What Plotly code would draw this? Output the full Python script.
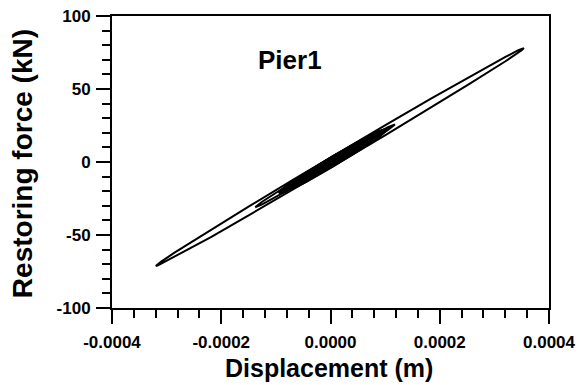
import plotly.graph_objects as go

# Hysteresis loops of Pier1: displacement (m) vs restoring force (kN).
# Each loop is listed as a closed path: upper branch left->right, then lower branch right->left.

# Large loop
outer_x_up = [-0.000320, -0.0003166, -0.0003099, -0.0002863, -0.0002189, -0.0001515, -0.0000673,
              0.000017, 0.0001013, 0.0001855, 0.0002529, 0.0003203, 0.0003439, 0.0003506, 0.000354]
outer_f_up = [-71.2, -70.0, -68.2, -62.3, -46.4, -30.9, -11.9, 6.9, 25.4, 43.7, 58.1, 72.0, 76.6, 77.7, 78.0]
outer_f_dn = [-71.2, -71.0, -69.9, -65.3, -51.4, -36.9, -18.7, -0.1, 18.6, 37.7, 53.1, 69.0, 74.9, 76.7, 78.0]

# Smaller cycles around the origin
loop2_x = [-0.000138, -0.0001252, -0.0000868, -0.00001, 0.0000668, 0.0001052, 0.000118]
loop2_up = [-31.0, -27.2, -18.0, -0.6, 16.0, 23.8, 25.7]
loop2_dn = [-31.0, -29.0, -21.2, -4.6, 12.8, 22.0, 25.7]

loop3_x = [-0.000087, -0.0000779, -0.000050, 0.0000045, 0.0000594, 0.0000869, 0.000096]
loop3_up = [-19.7, -16.8, -10.1, 2.4, 14.2, 19.6, 20.9]
loop3_dn = [-19.7, -18.4, -12.9, -1.2, 11.4, 18.0, 20.9]

loop4_x = [-0.0000800, -0.0000673, -0.0000375, 0.0000050, 0.0000475, 0.0000773, 0.0000900]
loop4_up = [-17.8, -13.6, -6.2, 3.6, 12.7, 18.4, 19.8]
loop4_dn = [-17.8, -16.4, -10.7, -1.6, 8.2, 15.6, 19.8]

loop5_x = [-0.0000720, -0.0000605, -0.0000335, 0.0000050, 0.0000435, 0.0000705, 0.0000820]
loop5_up = [-16.9, -13.2, -6.5, 2.3, 10.5, 15.8, 17.2]
loop5_dn = [-16.9, -15.6, -10.3, -2.1, 6.7, 13.4, 17.2]

loop6_x = [-0.0000600, -0.0000501, -0.0000270, 0.0000060, 0.0000390, 0.0000621, 0.0000720]
loop6_up = [-13.7, -10.7, -5.0, 2.5, 9.6, 14.1, 15.5]
loop6_dn = [-13.7, -12.3, -7.8, -0.7, 6.8, 12.5, 15.5]

loop7_x = [-0.0000950, -0.0000802, -0.0000455, 0.0000040, 0.0000535, 0.0000882, 0.0001030]
loop7_up = [-21.2, -16.3, -7.7, 3.7, 14.2, 20.9, 22.6]
loop7_dn = [-21.2, -19.5, -12.9, -2.3, 9.0, 17.7, 22.6]

loop8_x = [-0.0000900, -0.0000758, -0.0000425, 0.0000050, 0.0000525, 0.0000858, 0.0001000]
loop8_up = [-20.3, -16.7, -8.9, 1.7, 12.1, 19.1, 21.7]
loop8_dn = [-20.3, -17.7, -10.7, -0.3, 10.3, 18.1, 21.7]

loop9_x = [-0.0000850, -0.0000715, -0.0000400, 0.0000050, 0.0000500, 0.0000815, 0.0000950]
loop9_up = [-19.7, -15.7, -8.1, 2.2, 11.9, 18.2, 20.1]
loop9_dn = [-19.7, -17.8, -11.5, -1.8, 8.5, 16.1, 20.1]

loop10_x = [-0.0000920, -0.0000778, -0.0000445, 0.0000030, 0.0000505, 0.0000838, 0.0000980]
loop10_up = [-20.3, -15.7, -7.6, 3.4, 13.6, 20.1, 21.8]
loop10_dn = [-20.3, -18.5, -12.1, -1.8, 9.1, 17.3, 21.8]

loop11_x = [-0.0000780, -0.0000656, -0.0000365, 0.0000050, 0.0000465, 0.0000756, 0.0000880]
loop11_up = [-17.7, -14.2, -7.4, 2.0, 11.0, 17.0, 19.1]
loop11_dn = [-17.7, -15.6, -9.6, -0.6, 8.8, 15.6, 19.1]

loop12_x = [-0.0000500, -0.0000418, -0.0000225, 0.0000050, 0.0000325, 0.0000518, 0.0000600]
loop12_up = [-11.5, -9.3, -4.7, 1.5, 7.5, 11.5, 12.9]
loop12_dn = [-11.5, -10.1, -6.1, -0.1, 6.1, 10.7, 12.9]

loop13_x = [-0.0000880, -0.0000741, -0.0000415, 0.0000050, 0.0000515, 0.0000841, 0.0000980]
loop13_up = [-19.9, -16.6, -9.3, 1.1, 11.4, 18.4, 21.3]
loop13_dn = [-19.9, -17.0, -10.0, 0.3, 10.7, 18.0, 21.3]

loop14_x = [-0.0000940, -0.0000792, -0.0000445, 0.0000050, 0.0000545, 0.0000892, 0.0001040]
loop14_up = [-21.4, -16.3, -7.6, 3.9, 14.4, 20.9, 22.4]
loop14_dn = [-21.4, -19.9, -13.4, -2.9, 8.6, 17.3, 22.4]

loop15_x = [-0.0000820, -0.0000690, -0.0000385, 0.0000050, 0.0000485, 0.0000790, 0.0000920]
loop15_up = [-18.0, -14.3, -6.9, 2.9, 12.3, 18.5, 20.6]
loop15_dn = [-18.0, -15.9, -9.7, -0.3, 9.5, 16.9, 20.6]

loops = [
    (outer_x_up, outer_f_up, outer_f_dn),
    (loop2_x, loop2_up, loop2_dn),
    (loop3_x, loop3_up, loop3_dn),
    (loop4_x, loop4_up, loop4_dn),
    (loop5_x, loop5_up, loop5_dn),
    (loop6_x, loop6_up, loop6_dn),
    (loop7_x, loop7_up, loop7_dn),
    (loop8_x, loop8_up, loop8_dn),
    (loop9_x, loop9_up, loop9_dn),
    (loop10_x, loop10_up, loop10_dn),
    (loop11_x, loop11_up, loop11_dn),
    (loop12_x, loop12_up, loop12_dn),
    (loop13_x, loop13_up, loop13_dn),
    (loop14_x, loop14_up, loop14_dn),
    (loop15_x, loop15_up, loop15_dn),
]

x_ticks = [-0.0004, -0.0002, 0.0, 0.0002, 0.0004]
x_tick_text = ["-0.0004", "-0.0002", "0.0000", "0.0002", "0.0004"]
y_ticks = [-100, -50, 0, 50, 100]
y_tick_text = ["-100", "-50", "0", "50", "100"]

FONT = "Liberation Sans, Arial, sans-serif"

fig = go.Figure()
for i, (xs, up, dn) in enumerate(loops):
    px = list(xs) + list(xs[::-1])
    py = list(up) + list(dn[::-1])
    fig.add_trace(go.Scatter(x=px, y=py, mode="lines",
                             line=dict(color="black", width=2 if i < 2 else 2.5),
                             showlegend=False, hoverinfo="skip"))

fig.add_annotation(x=-0.0000741, y=69.9, xref="x", yref="y", text="Pier1",
                   showarrow=False,
                   font=dict(family=FONT, size=26, color="black", weight="bold"))

# Axis titles placed as paper-anchored annotations
fig.add_annotation(x=0.4977, y=-0.205, xref="paper", yref="paper",
                   text="Displacement (m)", showarrow=False,
                   xanchor="center", yanchor="middle",
                   font=dict(family=FONT, size=25, color="black", weight="bold"))
fig.add_annotation(x=-0.206, y=0.496, xref="paper", yref="paper",
                   text="Restoring force (kN)", showarrow=False, textangle=-90,
                   xanchor="center", yanchor="middle",
                   font=dict(family=FONT, size=28, color="black", weight="bold"))

axis_common = dict(
    showline=True, linecolor="black", linewidth=2, mirror=True,
    ticks="outside", ticklen=14, tickwidth=2, tickcolor="black",
    showgrid=False, zeroline=False,
    tickfont=dict(family=FONT, size=17, color="black", weight="bold"),
)

fig.update_xaxes(
    range=[-0.0004, 0.0004], tickvals=x_ticks, ticktext=x_tick_text,
    ticklabelstandoff=4,
    minor=dict(dtick=0.00004, tick0=0, ticks="outside", ticklen=8, tickwidth=2, tickcolor="black"),
    **axis_common,
)
fig.update_yaxes(
    range=[-100, 100], tickvals=y_ticks, ticktext=y_tick_text,
    ticklabelstandoff=2,
    minor=dict(dtick=10, tick0=0, ticks="outside", ticklen=8, tickwidth=2, tickcolor="black"),
    **axis_common,
)

fig.update_layout(
    width=579, height=385,
    margin=dict(l=112, r=30, t=16, b=77, autoexpand=False),
    paper_bgcolor="white", plot_bgcolor="white",
)

fig.write_html("out.html")
